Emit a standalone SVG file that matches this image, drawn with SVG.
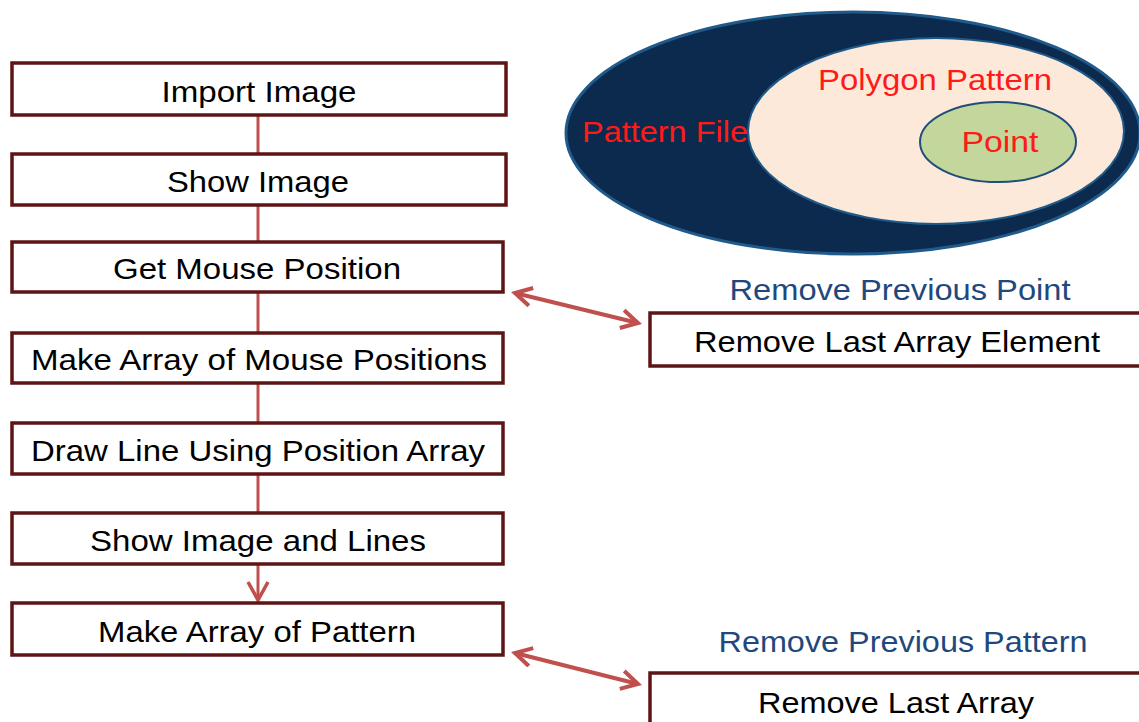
<svg xmlns="http://www.w3.org/2000/svg" width="1139" height="722" viewBox="0 0 1139 722">
<style>
.box{fill:#fff;stroke:#5c1414;stroke-width:3.5}
.bt{font-family:"Liberation Sans",Arial,sans-serif;font-size:30px;fill:#000;text-anchor:middle}
.lbl{font-family:"Liberation Sans",Arial,sans-serif;font-size:30px;fill:#1f497d;text-anchor:middle}
.red{font-family:"Liberation Sans",Arial,sans-serif;font-size:30px;fill:#ff1a1a;text-anchor:middle}
.con{stroke:#c0504d;stroke-width:3;fill:none}
.dbl{stroke:#c0504d;stroke-width:4;fill:none}
</style>
<defs>
<marker id="ah" viewBox="0 0 12 12" refX="10" refY="6" markerWidth="5.5" markerHeight="5.5" orient="auto-start-reverse" markerUnits="strokeWidth">
<path d="M1,1 L10,6 L1,11" fill="none" stroke="#c0504d" stroke-width="2.2" stroke-linejoin="miter"/>
</marker>
<marker id="ah2" viewBox="0 0 12 12" refX="10" refY="6" markerWidth="8" markerHeight="8" orient="auto" markerUnits="strokeWidth">
<path d="M1,1 L10,6 L1,11" fill="none" stroke="#c0504d" stroke-width="1.8"/>
</marker>
</defs>
<rect width="1139" height="722" fill="#fff"/>
<g id="venn">
<ellipse cx="853" cy="133" rx="287" ry="121" fill="#0b2a4e" stroke="#1f5a8a" stroke-width="3"/>
<ellipse cx="936" cy="131" rx="188" ry="93" fill="#fde9d9" stroke="#1f5a8a" stroke-width="2"/>
<ellipse cx="998" cy="142" rx="78" ry="40" fill="#c3d69b" stroke="#1f4e79" stroke-width="2"/>
<text class="red" x="665" y="142" textLength="166" lengthAdjust="spacingAndGlyphs">Pattern File</text>
<text class="red" x="935" y="90" textLength="234" lengthAdjust="spacingAndGlyphs">Polygon Pattern</text>
<text class="red" x="1000" y="152" textLength="77" lengthAdjust="spacingAndGlyphs">Point</text>
</g>
<g id="connectors">
<line class="con" x1="258" y1="116" x2="258" y2="155"/>
<line class="con" x1="258" y1="205" x2="258" y2="242"/>
<line class="con" x1="258" y1="292" x2="258" y2="333"/>
<line class="con" x1="258" y1="383" x2="258" y2="423"/>
<line class="con" x1="258" y1="474" x2="258" y2="513"/>
<line class="con" x1="258" y1="564" x2="258" y2="600" marker-end="url(#ah2)"/>
<line class="dbl" x1="515" y1="293" x2="638" y2="323" marker-start="url(#ah)" marker-end="url(#ah)"/>
<line class="dbl" x1="515" y1="653" x2="638" y2="684" marker-start="url(#ah)" marker-end="url(#ah)"/>
</g>
<g id="n1"><rect class="box" x="12" y="63" width="494" height="52"/><text class="bt" x="259" y="102" textLength="195" lengthAdjust="spacingAndGlyphs">Import Image</text></g>
<g id="n2"><rect class="box" x="12" y="154" width="494" height="51"/><text class="bt" x="258" y="192" textLength="182" lengthAdjust="spacingAndGlyphs">Show Image</text></g>
<g id="n3"><rect class="box" x="12" y="242" width="491" height="50"/><text class="bt" x="257" y="279" textLength="288" lengthAdjust="spacingAndGlyphs">Get Mouse Position</text></g>
<g id="n4"><rect class="box" x="12" y="333" width="491" height="50"/><text class="bt" x="259" y="370" textLength="456" lengthAdjust="spacingAndGlyphs">Make Array of Mouse Positions</text></g>
<g id="n5"><rect class="box" x="12" y="423" width="491" height="51"/><text class="bt" x="258" y="461" textLength="454" lengthAdjust="spacingAndGlyphs">Draw Line Using Position Array</text></g>
<g id="n6"><rect class="box" x="12" y="513" width="491" height="51"/><text class="bt" x="258" y="551" textLength="336" lengthAdjust="spacingAndGlyphs">Show Image and Lines</text></g>
<g id="n7"><rect class="box" x="12" y="603" width="491" height="52"/><text class="bt" x="257" y="642" textLength="318" lengthAdjust="spacingAndGlyphs">Make Array of Pattern</text></g>
<g id="n8"><text class="lbl" x="900" y="300" textLength="341" lengthAdjust="spacingAndGlyphs">Remove Previous Point</text><rect class="box" x="650" y="313" width="495" height="53"/><text class="bt" x="897" y="352" textLength="406" lengthAdjust="spacingAndGlyphs">Remove Last Array Element</text></g>
<g id="n9"><text class="lbl" x="903" y="652" textLength="369" lengthAdjust="spacingAndGlyphs">Remove Previous Pattern</text><rect class="box" x="650" y="673" width="495" height="60"/><text class="bt" x="896" y="713" textLength="276" lengthAdjust="spacingAndGlyphs">Remove Last Array</text></g>
</svg>
